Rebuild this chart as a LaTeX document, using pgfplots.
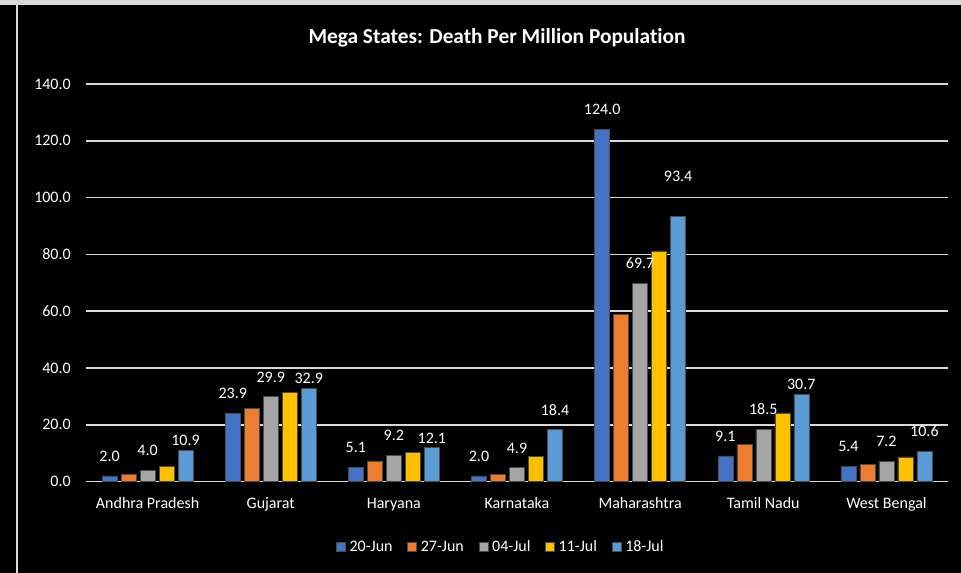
\documentclass[border=0pt]{standalone}
\usepackage{pgfplots}
\pgfplotsset{compat=1.18}
\usepackage{pgfplotstable}
\usepackage{fontspec}
\setmainfont{Carlito}[Ligatures=NoCommon]

\definecolor{cA}{HTML}{4472C4}
\definecolor{cB}{HTML}{ED7D31}
\definecolor{cC}{HTML}{A5A5A5}
\definecolor{cD}{HTML}{FFC000}
\definecolor{cE}{HTML}{5B9BD5}
\definecolor{gridc}{HTML}{D9D9D9}

% x = state index, y = deaths per million, off = label lift (pt)
\pgfplotstableread{
x y off
0 2.0 15
1 23.9 15
2 5.1 15
3 2.0 14.5
4 124.0 15
5 9.1 14.5
6 5.4 15
}\junA
\pgfplotstableread{
x y
0 2.7
1 25.9
2 7.3
3 2.6
4 58.8
5 13.2
6 6.1
}\junB
\pgfplotstableread{
x y off
0 4.0 15
1 29.9 14.5
2 9.2 15
3 4.9 14.5
4 69.7 15.5
5 18.5 15
6 7.2 15
}\julA
\pgfplotstableread{
x y
0 5.5
1 31.3
2 10.2
3 9.0
4 81.2
5 24.2
6 8.7
}\julB
\pgfplotstableread{
x y off
0 10.9 7.5
1 32.9 7
2 12.1 7
3 18.4 14.5
4 93.4 30
5 30.7 7.5
6 10.6 15
}\julC

\begin{document}
\begin{tikzpicture}
\path[use as bounding box, fill=black] (0,0) rectangle (720.75pt,429.75pt);
\fill[gridc] (0,426pt) rectangle (720.75pt,429.75pt);
\fill[gridc] (12pt,0) rectangle (13.5pt,429.75pt);
\node[text=white, font=\bfseries\fontsize{16}{19}\selectfont] at (372.75pt,401.25pt) {Mega States: Death Per Million Population};
\begin{axis}[
    at={(64.5pt,68.5pt)}, anchor=south west,
    scale only axis,
    width=646.5pt, height=298.3pt,
    ybar=3pt, bar width=11.25pt,
    xmin=-0.5, xmax=6.5,
    ymin=0, ymax=140,
    xtick=data,
    xticklabels={Andhra Pradesh,Gujarat,Haryana,Karnataka,Maharashtra,Tamil Nadu,West Bengal},
    ytick={0,20,...,140},
    axis line style={draw=none},
    major tick length=0pt,
    ymajorgrids=true,
    grid style={gridc, line width=1.2pt},
    ticklabel style={text=white, font=\fontsize{12}{14}\selectfont},
    xticklabel style={anchor=base, yshift=-20pt},
    yticklabel style={anchor=east, inner sep=0pt, xshift=-11.25pt},
    /pgf/number format/assume math mode=true,
    yticklabel={\pgfmathprintnumber[fixed, fixed zerofill, precision=1]{\tick}},
    legend style={at={(0.48,-0.164)}, anchor=center, draw=none, fill=none,
        text=white, font=\fontsize{12}{14}\selectfont,
        legend columns=-1,
        nodes={inner sep=0pt},
        /tikz/every odd column/.append style={column sep=3pt},
        /tikz/every even column/.append style={column sep=11pt}},
    legend cell align=left,
    sq/.style={legend image code/.code={\fill[##1] (0pt,-3.4pt) rectangle (6.8pt,3.4pt);}},
    lab/.style={
        nodes near coords,
        visualization depends on={\thisrow{off} \as \off},
        nodes near coords style={anchor=center, yshift=\off pt, text=white,
            font=\fontsize{12}{14}\selectfont,
            /pgf/number format/.cd, fixed, fixed zerofill, precision=1, assume math mode=true},
    },
]
\addplot[fill=cA, draw=black!70, line width=0.4pt, sq, lab] table[x=x, y=y] {\junA};
\addlegendentry{20-Jun}
\addplot[fill=cB, draw=black!70, line width=0.4pt, sq] table[x=x, y=y] {\junB};
\addlegendentry{27-Jun}
\addplot[fill=cC, draw=black!70, line width=0.4pt, sq, lab] table[x=x, y=y] {\julA};
\addlegendentry{04-Jul}
\addplot[fill=cD, draw=black!70, line width=0.4pt, sq] table[x=x, y=y] {\julB};
\addlegendentry{11-Jul}
\addplot[fill=cE, draw=black!70, line width=0.4pt, sq, lab] table[x=x, y=y] {\julC};
\addlegendentry{18-Jul}
\end{axis}
\end{tikzpicture}
\end{document}
